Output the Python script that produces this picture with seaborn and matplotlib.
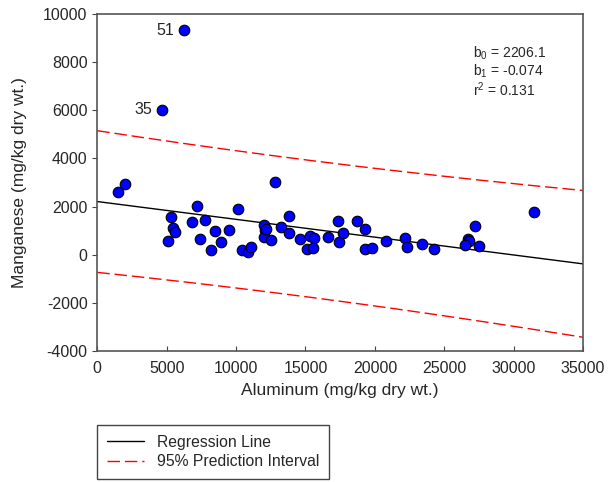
import matplotlib
matplotlib.use("Agg")
import matplotlib.pyplot as plt
import numpy as np
import pandas as pd
import seaborn as sns
from matplotlib.lines import Line2D

# aluminum (x) and manganese (y), mg/kg dry wt.
aluminum = [1460, 2020, 4660, 6270, 5330, 7160, 10110, 5480, 5620, 5120,
            6800, 7780, 8450, 9460, 7400, 8890, 8210, 10450, 10830, 11070,
            11980, 12100, 12030, 12820, 12150, 12510, 13810, 13230, 13810, 14600,
            15300, 15580, 15110, 15540, 16600, 17420, 17320, 17700, 18710, 19310,
            19290, 19810, 20800, 22190, 22280, 23390, 24280, 31480, 27180, 26680,
            26800, 26470, 27470]
manganese = [2590, 2930, 6010, 9330, 1580, 2020, 1890, 1120, 940, 560,
             1360, 1440, 990, 1040, 650, 530, 210, 180, 110, 320,
             1230, 1030, 750, 3020, 1060, 610, 1620, 1140, 910, 640,
             780, 710, 220, 290, 720, 520, 1390, 900, 1400, 1070,
             220, 280, 580, 680, 320, 450, 220, 1760, 1210, 640,
             560, 390, 350]
labeled = {"51": (6270, 9330), "35": (4660, 6010)}

b0 = 2206.1
b1 = -0.074
r2 = 0.131

df = pd.DataFrame({"Aluminum": aluminum, "Manganese": manganese})

sns.set_style("ticks")
plt.rcParams["font.family"] = ["Liberation Sans", "DejaVu Sans"]
plt.rcParams["axes.unicode_minus"] = False
plt.rcParams["mathtext.fontset"] = "custom"
plt.rcParams["mathtext.rm"] = "Liberation Sans"
plt.rcParams["mathtext.it"] = "Liberation Sans"

fig = plt.figure(figsize=(6.08, 4.82), dpi=100)
ax = fig.add_axes([0.16, 0.272, 0.799, 0.699])

# regression line and 95% prediction interval
xs = np.linspace(0, 35000, 200)
yhat = b0 + b1 * xs
x = np.array(aluminum, float)
y = np.array(manganese, float)
n = len(x)
res = y - (b0 + b1 * x)
s = np.sqrt(np.sum(res ** 2) / (n - 2))
sxx = np.sum((x - x.mean()) ** 2)
half = 2.006 * s * np.sqrt(1 + 1 / n + (xs - x.mean()) ** 2 / sxx)

dash = [9, 3.5]
sns.lineplot(x=xs, y=yhat, ax=ax, color="black", lw=1)
sns.lineplot(x=xs, y=yhat + half, ax=ax, color="red", lw=1)
sns.lineplot(x=xs, y=yhat - half, ax=ax, color="red", lw=1)
for l in ax.lines[1:3]:
    l.set_dashes(dash)

sns.scatterplot(data=df, x="Aluminum", y="Manganese", ax=ax, color="#0000ff",
                edgecolor="black", linewidth=0.8, s=58, zorder=5)

for lab, (px, py) in labeled.items():
    ax.annotate(lab, (px, py), xytext=(-7, 0), textcoords="offset points",
                ha="right", va="center", fontsize=11.5)

stats = [f"b$_0$ = {b0}", f"b$_1$ = {b1}", f"r$^2$ = {r2}"]
for i, t in enumerate(stats):
    ax.text(0.774, 0.884 - 0.055 * i, t, transform=ax.transAxes, fontsize=10,
            va="center")

ax.set_xlim(0, 35000)
ax.set_ylim(-4000, 10000)
ax.set_xticks(range(0, 35001, 5000))
ax.set_yticks(range(-4000, 10001, 2000))
ax.tick_params(axis="x", direction="in", labelsize=11.5, pad=7, color="#444444")
ax.tick_params(axis="y", direction="out", labelsize=11.5, color="#444444")
for sp in ax.spines.values():
    sp.set_color("#555555")
    sp.set_linewidth(1.2)
ax.set_xlabel("Aluminum (mg/kg dry wt.)", fontsize=12.5, labelpad=5)
ax.set_ylabel("Manganese (mg/kg dry wt.)", fontsize=12.5, labelpad=12)

handles = [Line2D([], [], color="black", lw=1),
           Line2D([], [], color="red", lw=1, dashes=dash)]
fig.legend(handles, ["Regression Line", "95% Prediction Interval"],
           loc="upper left", bbox_to_anchor=(0.16, 0.118), borderaxespad=0,
           fontsize=11.3, frameon=True, fancybox=False, edgecolor="#444444",
           framealpha=1, handlelength=2.4, handletextpad=0.8, borderpad=0.6,
           labelspacing=0.3)

fig.savefig("out.png", dpi=100)
